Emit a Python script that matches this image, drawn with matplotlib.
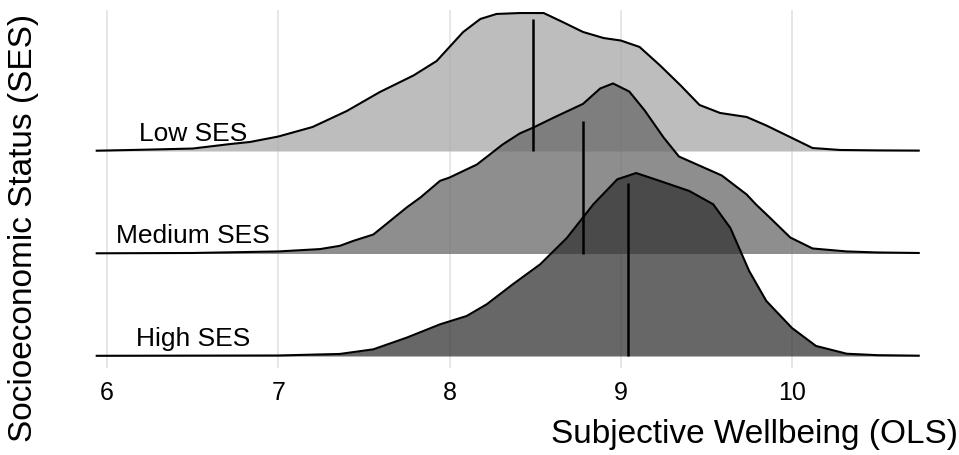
import matplotlib.pyplot as plt
import numpy as np

plt.rcParams['font.family'] = ['Liberation Sans', 'DejaVu Sans']

groups = ["Low SES", "Medium SES", "High SES"]
rows = [2, 1, 0]

# ridge heights in row units
low_x = [5.94, 6.2, 6.5, 6.72, 6.835, 7.0, 7.2, 7.4, 7.594, 7.79, 7.925, 8.0,
         8.08, 8.18, 8.275, 8.41, 8.55, 8.66, 8.78, 8.9, 9.0, 9.11, 9.23, 9.35,
         9.46, 9.58, 9.735, 9.85, 10.0, 10.12, 10.28, 10.5, 10.74]
low_h = [0.003, 0.012, 0.024, 0.068, 0.088, 0.141, 0.234, 0.39, 0.576, 0.737,
         0.878, 1.015, 1.161, 1.288, 1.337, 1.346, 1.346, 1.259, 1.161, 1.102,
         1.078, 1.015, 0.834, 0.639, 0.449, 0.371, 0.332, 0.249, 0.127, 0.029,
         0.01, 0.006, 0.004]

med_x = [5.94, 6.5, 7.0, 7.244, 7.36, 7.44, 7.555, 7.633, 7.75, 7.83, 7.945,
         8.0, 8.16, 8.31, 8.41, 8.49, 8.61, 8.78, 8.88, 8.955, 9.05, 9.14, 9.25,
         9.34, 9.44, 9.59, 9.735, 9.79, 9.87, 9.99, 10.12, 10.32, 10.5, 10.74]
med_h = [0.002, 0.005, 0.02, 0.043, 0.075, 0.124, 0.185, 0.29, 0.449, 0.546,
         0.709, 0.741, 0.868, 1.063, 1.171, 1.229, 1.327, 1.46, 1.61, 1.659,
         1.58, 1.395, 1.132, 0.946, 0.872, 0.761, 0.576, 0.478, 0.351, 0.156,
         0.049, 0.02, 0.01, 0.005]

high_x = [5.94, 7.0, 7.36, 7.555, 7.75, 7.945, 8.1, 8.217, 8.37, 8.53, 8.685,
          8.84, 8.98, 9.09, 9.23, 9.4, 9.54, 9.64, 9.75, 9.85, 10.0, 10.14,
          10.32, 10.5, 10.74]
high_h = [0.002, 0.005, 0.02, 0.065, 0.179, 0.309, 0.39, 0.504, 0.70, 0.895,
          1.151, 1.48, 1.724, 1.785, 1.707, 1.61, 1.48, 1.249, 0.829, 0.537,
          0.273, 0.098, 0.022, 0.008, 0.003]

means = [8.49, 8.78, 9.04]
mean_tops = [1.29, 1.295, 1.69]

colors = ["#a7a7a7", "#696969", "#343434"]

curves = [(low_x, low_h), (med_x, med_h), (high_x, high_h)]

fig = plt.figure(figsize=(9.59, 4.55), dpi=100)
ax = fig.add_axes([90 / 959, 87 / 455, 840 / 959, 358 / 455])

for v in range(6, 11):
    ax.axvline(v, color="#e3e3e3", lw=1.2, zorder=0)

for i, ((xs, hs), row) in enumerate(zip(curves, rows)):
    xs = np.array(xs)
    ys = row + np.array(hs)
    ax.fill_between(xs, row, ys, color=colors[i], alpha=0.75, lw=0, zorder=1 + i)
    ax.plot(xs, ys, color="black", lw=1.5, zorder=1 + i,
            solid_joinstyle="round")
    ax.vlines(means[i], row, row + mean_tops[i], color="black", lw=1.8, zorder=10)
    ax.text(6.5, row + 0.10, groups[i], ha="center", va="baseline",
            fontsize=19, zorder=11)

ax.set_xlim(6 + (90 - 107) / 171.25, 6 + (930 - 107) / 171.25)
ax.set_ylim((356 - 368) / 102.5, (356 - 10) / 102.5)
ax.set_xticks(range(6, 11))
ax.set_yticks([])
ax.tick_params(axis="x", length=0, pad=9, labelsize=18, colors="black")
for s in ax.spines.values():
    s.set_visible(False)

fig.text(958 / 959, 12 / 455, "Subjective Wellbeing (OLS)", ha="right",
         va="baseline", fontsize=24)
fig.text(24 / 959, 227 / 455, "Socioeconomic Status (SES)", ha="center",
         va="center", rotation=90, fontsize=24)

fig.savefig("out.png", dpi=100)
